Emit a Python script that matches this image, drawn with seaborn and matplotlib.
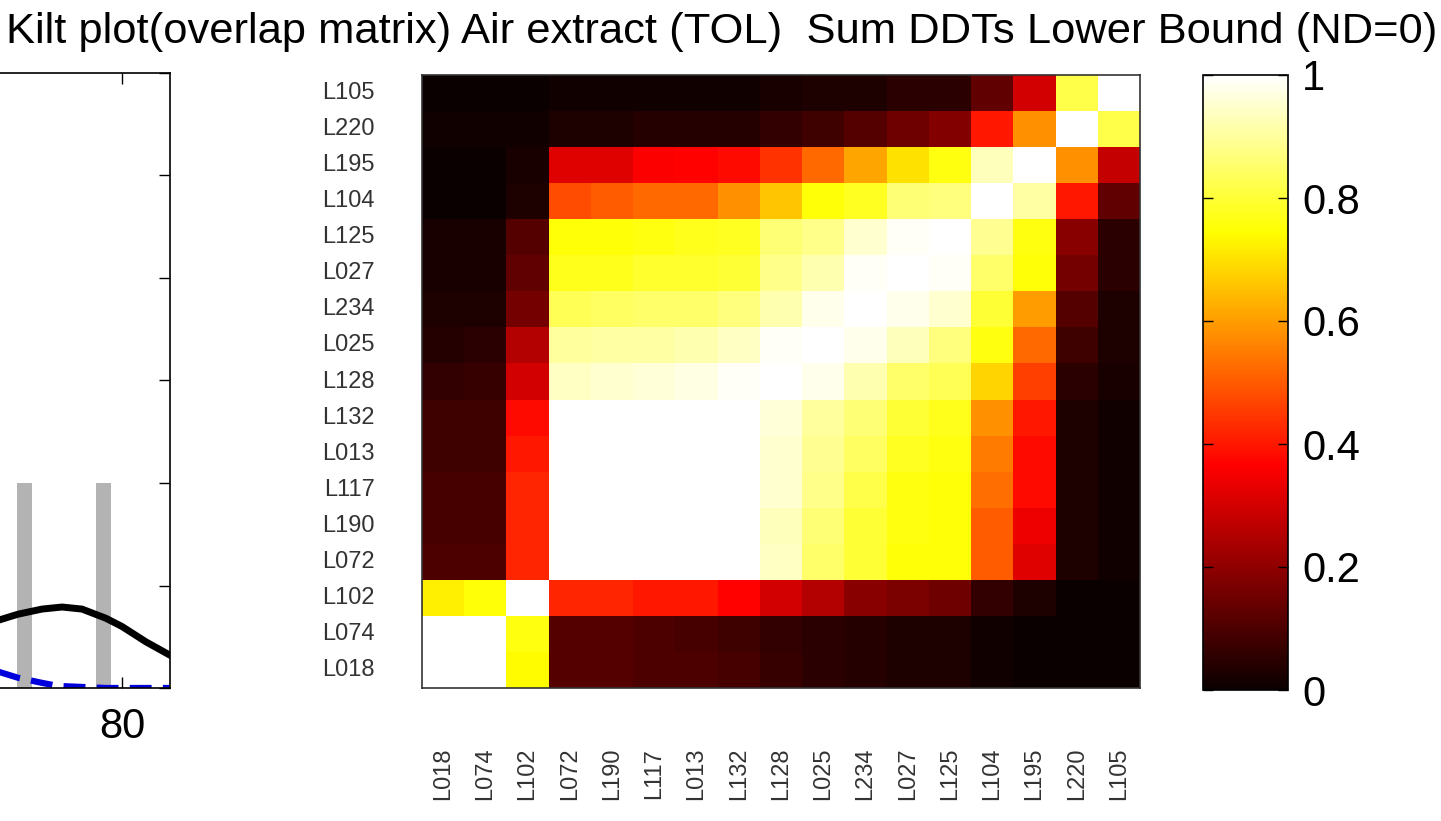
import numpy as np
import pandas as pd
import matplotlib
matplotlib.use("Agg")
import matplotlib.pyplot as plt
import seaborn as sns

# sample labels, in the order the rows are drawn (top to bottom)
row_labels = ["L105", "L220", "L195", "L104", "L125", "L027", "L234", "L025", "L128",
              "L132", "L013", "L117", "L190", "L072", "L102", "L074", "L018"]
col_labels = ["L018", "L074", "L102", "L072", "L190", "L117", "L013", "L132", "L128",
              "L025", "L234", "L027", "L125", "L104", "L195", "L220", "L105"]

# overlap values
overlap = [
    [0.00, 0.00, 0.00, 0.01, 0.01, 0.01, 0.01, 0.01, 0.02, 0.03, 0.03, 0.05, 0.05, 0.13, 0.30, 0.82, 1.00],
    [0.01, 0.01, 0.01, 0.03, 0.03, 0.04, 0.04, 0.04, 0.06, 0.08, 0.11, 0.15, 0.18, 0.40, 0.58, 1.00, 0.82],
    [0.00, 0.00, 0.02, 0.32, 0.32, 0.36, 0.37, 0.38, 0.44, 0.52, 0.61, 0.70, 0.76, 0.93, 1.00, 0.58, 0.28],
    [0.00, 0.00, 0.03, 0.48, 0.50, 0.52, 0.52, 0.58, 0.66, 0.75, 0.78, 0.86, 0.87, 1.00, 0.91, 0.40, 0.13],
    [0.02, 0.02, 0.11, 0.75, 0.75, 0.76, 0.77, 0.78, 0.86, 0.88, 0.95, 0.99, 1.00, 0.89, 0.76, 0.19, 0.05],
    [0.02, 0.02, 0.13, 0.77, 0.77, 0.79, 0.79, 0.80, 0.88, 0.92, 0.99, 1.00, 0.99, 0.85, 0.75, 0.16, 0.05],
    [0.03, 0.03, 0.16, 0.83, 0.84, 0.85, 0.85, 0.87, 0.92, 0.98, 1.00, 0.98, 0.95, 0.80, 0.60, 0.11, 0.03],
    [0.04, 0.05, 0.25, 0.90, 0.91, 0.91, 0.92, 0.94, 0.99, 1.00, 0.98, 0.93, 0.87, 0.76, 0.52, 0.08, 0.03],
    [0.06, 0.07, 0.30, 0.94, 0.95, 0.96, 0.97, 0.99, 1.00, 0.98, 0.92, 0.85, 0.83, 0.68, 0.46, 0.05, 0.02],
    [0.08, 0.08, 0.38, 1.00, 1.00, 1.00, 1.00, 1.00, 0.96, 0.90, 0.86, 0.80, 0.77, 0.58, 0.40, 0.03, 0.01],
    [0.08, 0.08, 0.40, 1.00, 1.00, 1.00, 1.00, 1.00, 0.95, 0.89, 0.84, 0.78, 0.76, 0.55, 0.38, 0.03, 0.01],
    [0.09, 0.09, 0.42, 1.00, 1.00, 1.00, 1.00, 1.00, 0.95, 0.88, 0.82, 0.76, 0.75, 0.53, 0.38, 0.03, 0.01],
    [0.09, 0.09, 0.42, 1.00, 1.00, 1.00, 1.00, 1.00, 0.93, 0.86, 0.80, 0.76, 0.75, 0.50, 0.34, 0.03, 0.01],
    [0.10, 0.10, 0.42, 1.00, 1.00, 1.00, 1.00, 1.00, 0.94, 0.85, 0.80, 0.75, 0.75, 0.50, 0.32, 0.03, 0.01],
    [0.72, 0.75, 1.00, 0.42, 0.42, 0.40, 0.40, 0.37, 0.30, 0.25, 0.19, 0.17, 0.15, 0.06, 0.03, 0.00, 0.00],
    [1.00, 1.00, 0.76, 0.11, 0.11, 0.10, 0.09, 0.08, 0.06, 0.05, 0.04, 0.03, 0.03, 0.01, 0.00, 0.00, 0.00],
    [1.00, 1.00, 0.74, 0.11, 0.11, 0.10, 0.10, 0.09, 0.07, 0.05, 0.04, 0.03, 0.03, 0.01, 0.00, 0.00, 0.00],
]

# the cut-off kilt plot on the left
curve_x = [64.5, 67, 70, 72.5, 75, 78, 80, 83, 86]
curve_y = [0.66, 0.72, 0.77, 0.79, 0.77, 0.68, 0.60, 0.45, 0.32]
dash_x = [64.5, 67, 70, 72, 75, 78, 82, 86]
dash_y = [0.16, 0.10, 0.05, 0.02, 0.01, 0.00, 0.00, 0.00]
bar_x = [67.8, 77.7]
bar_h = [2.0, 2.0]
left_xticks = [20, 40, 60, 80]
left_xlabels = ["", "", "", "80"]  # only 80 is inside the picture

plt.rcParams['font.family'] = ['Liberation Sans', 'DejaVu Sans']

W, H = 1441, 821
fig = plt.figure(figsize=(W / 100, H / 100), dpi=100)


def px_axes(x0, y0, x1, y1):
    # axes from pixel box (top-left origin)
    return fig.add_axes([x0 / W, (H - y1) / H, (x1 - x0) / W, (y1 - y0) / H])


# left plot (mostly outside the figure)
ax_l = px_axes(-518, 73, 170, 688)
ax_l.bar(bar_x, bar_h, width=1.9, color="#b3b3b3", zorder=1)
sns.lineplot(x=curve_x, y=curve_y, color="black", lw=5, ax=ax_l, zorder=3)
sns.lineplot(x=dash_x, y=dash_y, color="#0000dd", lw=4.5, ax=ax_l, zorder=2,
             linestyle=(0, (3.5, 1.8)))
ax_l.set_xlim(0, 86)
ax_l.set_ylim(0, 6)
ax_l.set_xticks(left_xticks)
ax_l.set_xticklabels(left_xlabels)
ax_l.set_yticks(range(7))
ax_l.tick_params(direction="in", length=8, width=1, top=True, right=True,
                 labelsize=30, pad=14)
ax_l.set_yticklabels([])
for s in ax_l.spines.values():
    s.set_linewidth(1.2)

# heatmap
ax = px_axes(422, 75, 1140, 688)
cax = px_axes(1203, 75, 1288, 690)
df = pd.DataFrame(overlap, index=row_labels, columns=col_labels)
sns.heatmap(df, cmap="hot", vmin=0, vmax=1, ax=ax, cbar_ax=cax, square=False)
ax.set_xlabel("")
ax.set_ylabel("")
for s in ax.spines.values():
    s.set_visible(True)
    s.set_color("#333333")
    s.set_linewidth(1.2)
ax.tick_params(axis="both", length=0, labelsize=17, colors="#333333")
ax.tick_params(axis="x", pad=43, labelrotation=90)
ax.tick_params(axis="y", pad=34, labelrotation=0)

cbar = ax.collections[0].colorbar
cbar.outline.set_visible(True)
cbar.outline.set_linewidth(1.2)
cbar.outline.set_edgecolor("black")
cbar.set_ticks([0, 0.2, 0.4, 0.6, 0.8, 1])
cbar.set_ticklabels(["0", "0.2", "0.4", "0.6", "0.8", "1"])
cax.yaxis.set_ticks_position("both")
cax.tick_params(direction="in", length=7, width=1, labelsize=30, pad=10,
                labelleft=False, labelright=True)

fig.text(0.501, 0.985, "Kilt plot(overlap matrix) Air extract (TOL)  Sum DDTs Lower Bound (ND=0)",
         ha="center", va="top", fontsize=31.3)

fig.savefig("out.png", dpi=100)
